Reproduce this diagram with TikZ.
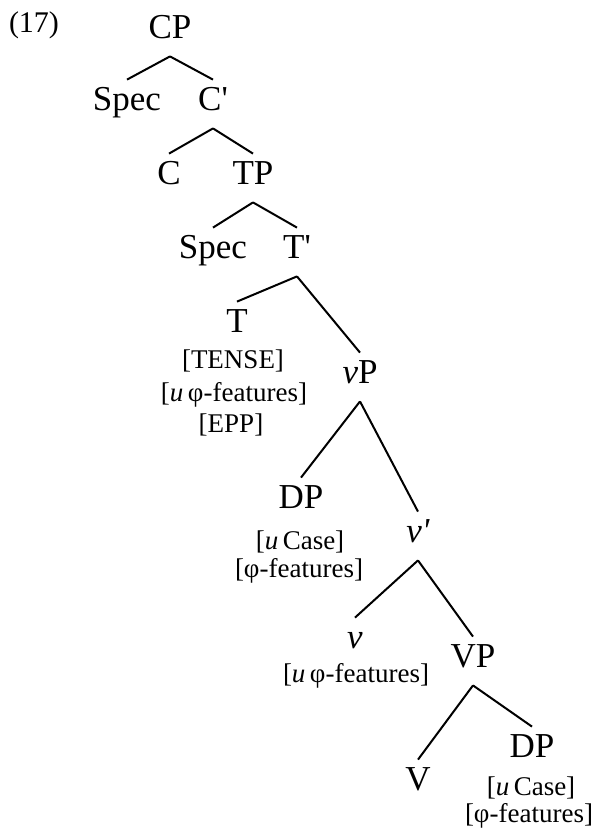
\documentclass[tikz,border=0pt]{standalone}
\usepackage{fontspec}
\newfontfamily\treefont{Liberation Serif}
\usetikzlibrary{positioning}
\tikzset{
  cat/.style={font=\treefont\fontsize{17.5}{20}\selectfont, text height=11pt, text depth=5pt, inner sep=4pt, anchor=base},
  feat/.style={font=\treefont\fontsize{13.5}{16}\selectfont, inner sep=0pt, anchor=base},
  branch/.style={black, line width=1pt}
}
\newcommand\ufeat{\textit{u}\,}

\begin{document}
\begin{tikzpicture}[x=0.5pt, y=-0.5pt]
\useasboundingbox (0,0) rectangle (596,832);
\node[feat, font=\treefont\fontsize{15}{17}\selectfont] (ex) at (34,32) {(17)};
\node[cat] (cp) at (170,38) {CP};
\node[cat] (spec1) at (127,110) {Spec};
\node[cat] (cbar) at (213,110) {C'};
\node[cat] (c) at (169,184) {C};
\node[cat] (tp) at (253,184) {TP};
\node[cat] (spec2) at (213,258) {Spec};
\node[cat] (tbar) at (297,258) {T'};
\node[cat] (t) at (237,332) {T};
\node[feat] (tense) at (233,368) {[TENSE]};
\node[feat] (uphi1) at (234,401) {[\ufeat φ-features]};
\node[feat] (epp) at (231,432) {[EPP]};
\node[cat] (vp) at (360,383) {\textit{ν}P};
\node[cat] (dp1) at (301,508) {DP};
\node[feat] (ucase1) at (300,549) {[\ufeat Case]};
\node[feat] (phi1) at (299,577) {[φ-features]};
\node[cat] (vbar) at (418,542) {\textit{ν'}};
\node[cat] (v) at (355,648) {\textit{ν}};
\node[feat] (uphi2) at (356,682) {[\ufeat φ-features]};
\node[cat] (vpp) at (473,667) {VP};
\node[cat] (vv) at (418,790) {V};
\node[cat] (dp2) at (532,757) {DP};
\node[feat] (ucase2) at (531,795) {[\ufeat Case]};
\node[feat] (phi2) at (529,822) {[φ-features]};
\draw[branch] (cp.south) -- (spec1.north);
\draw[branch] (cp.south) -- (cbar.north);
\draw[branch] (cbar.south) -- (c.north);
\draw[branch] (cbar.south) -- (tp.north);
\draw[branch] (tp.south) -- (spec2.north);
\draw[branch] (tp.south) -- (tbar.north);
\draw[branch] (tbar.south) -- (t.north);
\draw[branch] (tbar.south) -- (vp.north);
\draw[branch] (vp.south) -- (dp1.north);
\draw[branch] (vp.south) -- (vbar.north);
\draw[branch] (vbar.south) -- (v.north);
\draw[branch] (vbar.south) -- (vpp.north);
\draw[branch] (vpp.south) -- (vv.north);
\draw[branch] (vpp.south) -- (dp2.north);
\end{tikzpicture}
\end{document}
